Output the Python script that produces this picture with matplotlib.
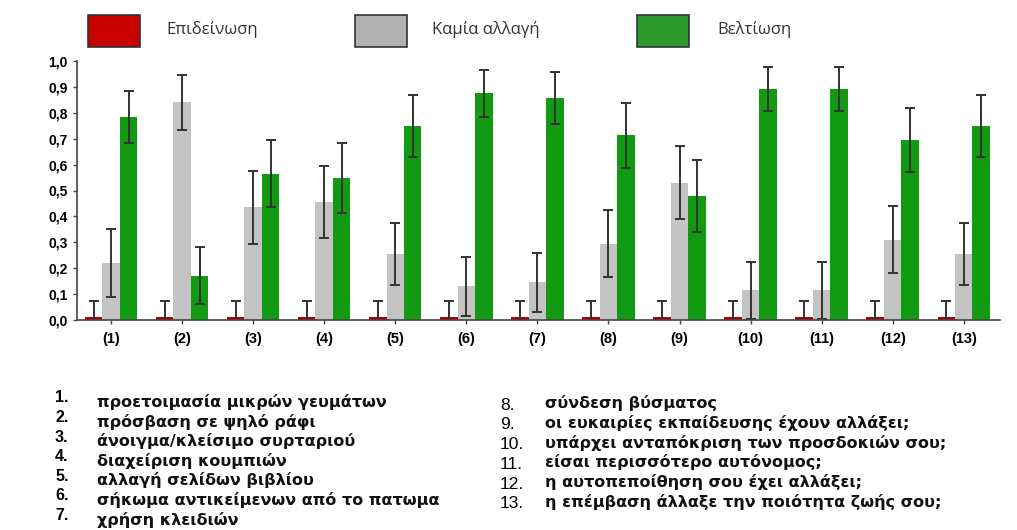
import numpy as np
import matplotlib
matplotlib.use("Agg")
import matplotlib.pyplot as plt
from matplotlib.patches import Rectangle

plt.rcParams['font.family'] = ['Liberation Sans', 'DejaVu Sans']

# Δεδομένα
ομαδες = ['(1)', '(2)', '(3)', '(4)', '(5)', '(6)', '(7)', '(8)', '(9)', '(10)', '(11)', '(12)', '(13)']

επιδεινωση = [0.012] * 13
επιδεινωση_err = [0.06] * 13

καμια = [0.22, 0.84, 0.435, 0.455, 0.255, 0.13, 0.145, 0.295, 0.53, 0.115, 0.115, 0.31, 0.255]
καμια_err = [0.13, 0.105, 0.14, 0.14, 0.12, 0.115, 0.115, 0.13, 0.14, 0.11, 0.11, 0.13, 0.12]

βελτιωση = [0.785, 0.17, 0.565, 0.55, 0.75, 0.875, 0.858, 0.713, 0.478, 0.893, 0.893, 0.695, 0.75]
βελτιωση_err = [0.1, 0.11, 0.13, 0.135, 0.12, 0.09, 0.1, 0.125, 0.14, 0.085, 0.085, 0.125, 0.12]

ετικετες_y = ['0,0', '0,1', '0,2', '0,3', '0,4', '0,5', '0,6', '0,7', '0,8', '0,9', '1,0']

ερωτησεις_1 = ['προετοιμασία μικρών γευμάτων', 'πρόσβαση σε ψηλό ράφι', 'άνοιγμα/κλείσιμο συρταριού',
               'διαχείριση κουμπιών', 'αλλαγή σελίδων βιβλίου', 'σήκωμα αντικείμενων από το πατωμα',
               'χρήση κλειδιών']
ερωτησεις_2 = ['σύνδεση βύσματος', 'οι ευκαιρίες εκπαίδευσης έχουν αλλάξει;',
               'υπάρχει ανταπόκριση των προσδοκιών σου;', 'είσαι περισσότερο αυτόνομος;',
               'η αυτοπεποίθηση σου έχει αλλάξει;', 'η επέμβαση άλλαξε την ποιότητα ζωής σου;']

κοκκινο = '#b00000'
γκρι = '#c3c3c3'
πρασινο = '#129a12'

fig = plt.figure(figsize=(10.17, 5.30), dpi=100)
ax = fig.add_axes([77 / 1017, 210 / 530, 923 / 1017, 259 / 530])

x = np.arange(len(ομαδες))
w = 0.246
eb = dict(ecolor='#333333', elinewidth=1.4, capsize=3.5, capthick=1.4)

ax.bar(x - w, επιδεινωση, w, color=κοκκινο, yerr=επιδεινωση_err, error_kw=eb, zorder=2)
ax.bar(x, καμια, w, color=γκρι, yerr=καμια_err, error_kw=eb, zorder=2)
ax.bar(x + w, βελτιωση, w, color=πρασινο, yerr=βελτιωση_err, error_kw=eb, zorder=2)

ax.set_xlim(-0.479, 12.51)
ax.set_ylim(0, 1.0)
ax.set_yticks(np.arange(0, 1.01, 0.1))
ax.set_yticklabels(ετικετες_y, fontsize=10, fontweight='bold')
ax.set_xticks(x)
ax.set_xticklabels(ομαδες, fontsize=10.5, fontweight='bold')
ax.tick_params(axis='both', length=3, width=1, color='#444444')
ax.tick_params(axis='x', pad=6)
for s in ['top', 'right']:
    ax.spines[s].set_visible(False)
for s in ['left', 'bottom']:
    ax.spines[s].set_color('#444444')
    ax.spines[s].set_linewidth(1.2)

# υπόμνημα πάνω από το γράφημα
W, H = 1017, 530
υπομνημα = [(88, '#c80000', 166, 'Επιδείνωση'),
            (355, '#b0b0b0', 432, 'Καμία αλλαγή'),
            (637, '#2c992c', 717, 'Βελτίωση')]
for x0, c, tx, lbl in υπομνημα:
    fig.patches.append(Rectangle((x0 / W, 1 - 47 / H), 52 / W, 32 / H, transform=fig.transFigure,
                                 facecolor=c, edgecolor='#333333', linewidth=1.2))
    fig.text(tx / W, 1 - 30 / H, lbl, fontsize=12, family=['Open Sans', 'DejaVu Sans'],
             color='#333333', va='center')

# λίστα ερωτήσεων
λιστα_font = dict(family=['DejaVu Sans'], fontsize=11.5, fontweight='bold', va='center', color='#111111')
for i, q in enumerate(ερωτησεις_1):
    y = 398 + i * 19.6
    fig.text(55 / W, 1 - y / H, f'{i + 1}.', fontsize=11.5, fontweight='bold', va='center')
    fig.text(97 / W, 1 - (y + 4) / H, q, **λιστα_font)
for i, q in enumerate(ερωτησεις_2):
    y = 405 + i * 19.8
    fig.text(500 / W, 1 - y / H, f'{i + 8}.', fontsize=12.5, va='center')
    fig.text(545 / W, 1 - (y - 2) / H, q, **λιστα_font)

fig.savefig('out.png', dpi=100, facecolor='white')
